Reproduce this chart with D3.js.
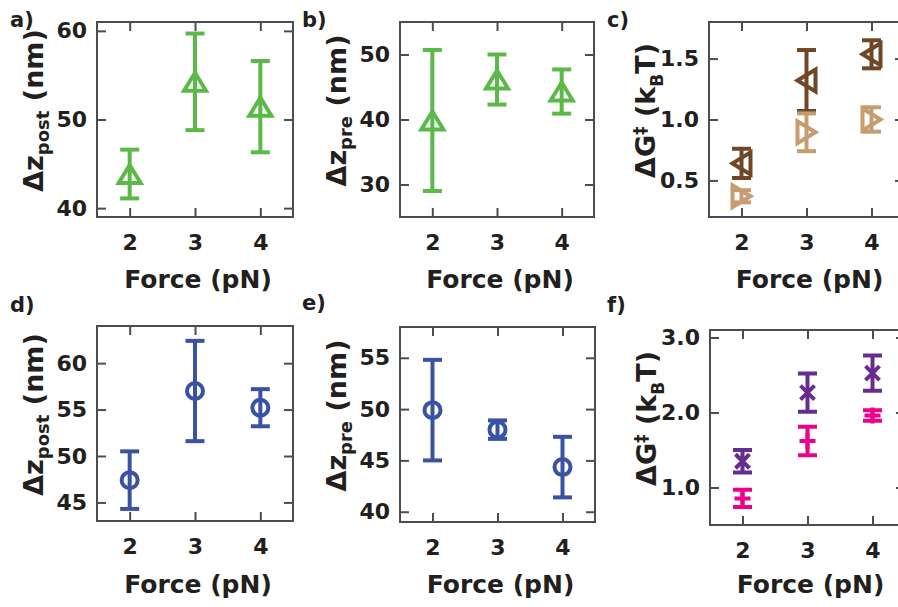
<!DOCTYPE html>
<html><head><meta charset="utf-8">
<script src="https://cdnjs.cloudflare.com/ajax/libs/d3/7.8.5/d3.min.js"></script>
<style>
body{margin:0;background:#fff}
svg{display:block}
text{font-family:"DejaVu Sans",sans-serif;font-weight:bold;fill:#231f20}
.tick text{font-size:22px}
.xlab{font-size:25px}
.ylab{font-size:27px}
.plab{font-size:21px}
</style>
</head><body>
<svg id="chart" width="898" height="607"></svg>
<script>
// ---------- data ----------
const forces = [2, 3, 4];

// a) Δz_post (green triangles)
const aVal = [43.85, 54.25, 51.45];
const aErr = [2.75, 5.45, 5.15];
// b) Δz_pre (green triangles)
const bVal = [39.85, 46.15, 44.3];
const bErr = [10.85, 3.85, 3.4];
// c) ΔG‡ (dark brown "<" and light tan ">")
const cDarkVal = [0.64, 1.32, 1.535];
const cDarkErr = [0.12, 0.25, 0.115];
const cLightVal = [0.37, 0.895, 1.0];
const cLightErr = [0.05, 0.155, 0.1];
// d) Δz_post (blue circles)
const dVal = [47.4, 57.0, 55.2];
const dErr = [3.1, 5.4, 2.0];
// e) Δz_pre (blue circles)
const eVal = [49.9, 48.0, 44.35];
const eErr = [4.9, 0.9, 2.95];
// f) ΔG‡ (purple "x" and magenta "+")
const fPurpleVal = [1.35, 2.265, 2.525];
const fPurpleErr = [0.15, 0.255, 0.235];
const fPinkVal = [0.855, 1.62, 1.96];
const fPinkErr = [0.115, 0.19, 0.07];

// tick labels
const aTicks = [40, 50, 60];
const bTicks = [30, 40, 50];
const cTicks = [0.5, 1.0, 1.5];
const dTicks = [45, 50, 55, 60];
const eTicks = [40, 45, 50, 55];
const fTicks = [1.0, 2.0, 3.0];

// ---------- drawing ----------
const svg = d3.select("#chart");
const AX = "#4d4d4d";
const GREEN = "#5bb947", BLUE = "#3953a4", BROWN = "#6f4726", TAN = "#c79c6e", PURPLE = "#662d91", PINK = "#ec008c";

function styleAxis(g){
  g.select(".domain").remove();
  g.attr("font-size", null).attr("font-family", null);
  g.selectAll(".tick line").attr("stroke", AX).attr("stroke-width", 2);
}

const markerPath = {
  up:    (w,h) => `M0,${-h/2}L${w/2},${h/2}L${-w/2},${h/2}Z`,
  left:  (w,h) => `M${-h/2},0L${h/2},${-w/2}L${h/2},${w/2}Z`,
  right: (w,h) => `M${h/2},0L${-h/2},${-w/2}L${-h/2},${w/2}Z`,
  x:     () => `M-7,-7L7,7M-7,7L7,-7`,
  plus:  () => `M-8,0L8,0M0,-8L0,8`
};

function panel(cfg){
  const x = d3.scaleLinear().domain([1.5, 4.5]).range([cfg.l, cfg.r]);
  const y = d3.scaleLinear().domain(cfg.yd).range([cfg.b, cfg.t]);
  const g = svg.append("g");

  // series
  cfg.series.forEach(s => {
    const sg = g.append("g").attr("stroke", s.color).attr("fill", "none");
    forces.forEach((f, i) => {
      const v = s.val[i], e = s.err[i];
      const cx = x(f);
      sg.append("line").attr("x1", cx).attr("x2", cx).attr("y1", y(v - e)).attr("y2", y(v + e)).attr("stroke-width", 4);
      [v - e, v + e].forEach(c => {
        sg.append("line").attr("x1", cx - 9.5).attr("x2", cx + 9.5).attr("y1", y(c)).attr("y2", y(c)).attr("stroke-width", 4);
      });
      if (s.marker === "circle") {
        sg.append("circle").attr("cx", cx).attr("cy", y(v)).attr("r", 8).attr("stroke-width", 4);
      } else {
        sg.append("path").attr("transform", `translate(${cx},${y(v)})`)
          .attr("d", markerPath[s.marker](22, 18)).attr("stroke-width", 4).attr("stroke-linejoin", "miter");
      }
    });
  });

  // axes (inward ticks on all four sides)
  g.append("g").attr("transform", `translate(${cfg.l},0)`)
    .call(d3.axisLeft(y).tickValues(cfg.yt).tickSize(-9).tickPadding(10).tickFormat(cfg.fmt)).call(styleAxis);
  g.append("g").attr("transform", `translate(${cfg.r},0)`)
    .call(d3.axisRight(y).tickValues(cfg.yt).tickSize(-9).tickFormat("")).call(styleAxis);
  g.append("g").attr("transform", `translate(0,${cfg.b})`)
    .call(d3.axisBottom(x).tickValues(forces).tickSize(-9).tickFormat(d3.format("d"))).call(styleAxis)
    .selectAll("text").attr("dy", null).attr("y", 33);
  g.append("g").attr("transform", `translate(0,${cfg.t})`)
    .call(d3.axisTop(x).tickValues(forces).tickSize(-9).tickFormat("")).call(styleAxis);

  g.append("rect").attr("x", cfg.l).attr("y", cfg.t).attr("width", cfg.r - cfg.l).attr("height", cfg.b - cfg.t)
    .attr("fill", "none").attr("stroke", AX).attr("stroke-width", 2);

  // x label
  g.append("text").attr("class", "xlab").attr("x", x(3) + 3).attr("y", cfg.xlY).attr("text-anchor", "middle").text("Force (pN)");

  // y label
  const yl = g.append("text").attr("class", "ylab").attr("text-anchor", "middle")
    .attr("transform", `translate(${cfg.l - 54},${(cfg.t + cfg.b) / 2 - 9}) rotate(-90)`);
  cfg.ylab(yl);

  // panel letter
  g.append("text").attr("class", "plab").attr("x", cfg.px).attr("y", cfg.py).text(cfg.letter);
}

function dzLabel(sub){
  return t => {
    t.append("tspan").text("\u0394z");
    t.append("tspan").attr("dy", 6).attr("font-size", "18px").text(sub);
    t.append("tspan").attr("dy", -6).text(" (nm)");
  };
}
function dgLabel(t){
  t.append("tspan").text("\u0394G");
  t.append("tspan").attr("dy", -9).attr("font-size", "17px").text("\u2021");
  t.append("tspan").attr("dy", 9).text(" (k");
  t.append("tspan").attr("dy", 8).attr("font-size", "17px").text("B");
  t.append("tspan").attr("dy", -8).text("T)");
}

const f0 = d3.format("d"), f1 = d3.format(".1f");

panel({l: 97, r: 293, t: 22, b: 217, yd: [39, 61], yt: aTicks, fmt: f0, xlY: 288,
  ylab: dzLabel("post"), letter: "a)", px: 10, py: 27,
  series: [{val: aVal, err: aErr, color: GREEN, marker: "up"}]});
panel({l: 400, r: 594, t: 22, b: 217, yd: [25, 55], yt: bTicks, fmt: f0, xlY: 288,
  ylab: dzLabel("pre"), letter: "b)", px: 302, py: 27,
  series: [{val: bVal, err: bErr, color: GREEN, marker: "up"}]});
panel({l: 709, r: 904, t: 22, b: 217, yd: [0.2, 1.8], yt: cTicks, fmt: f1, xlY: 288,
  ylab: dgLabel, letter: "c)", px: 607, py: 27,
  series: [{val: cDarkVal, err: cDarkErr, color: BROWN, marker: "left"},
           {val: cLightVal, err: cLightErr, color: TAN, marker: "right"}]});
panel({l: 97, r: 293, t: 326, b: 521, yd: [43, 64], yt: dTicks, fmt: f0, xlY: 593,
  ylab: dzLabel("post"), letter: "d)", px: 10, py: 312,
  series: [{val: dVal, err: dErr, color: BLUE, marker: "circle"}]});
panel({l: 400, r: 595, t: 327, b: 522, yd: [39, 58], yt: eTicks, fmt: f0, xlY: 593,
  ylab: dzLabel("pre"), letter: "e)", px: 302, py: 310,
  series: [{val: eVal, err: eErr, color: BLUE, marker: "circle"}]});
panel({l: 710, r: 905, t: 330, b: 525, yd: [0.5, 3.1], yt: fTicks, fmt: f1, xlY: 593,
  ylab: dgLabel, letter: "f)", px: 607, py: 312,
  series: [{val: fPurpleVal, err: fPurpleErr, color: PURPLE, marker: "x"},
           {val: fPinkVal, err: fPinkErr, color: PINK, marker: "plus"}]});
</script>
</body></html>
